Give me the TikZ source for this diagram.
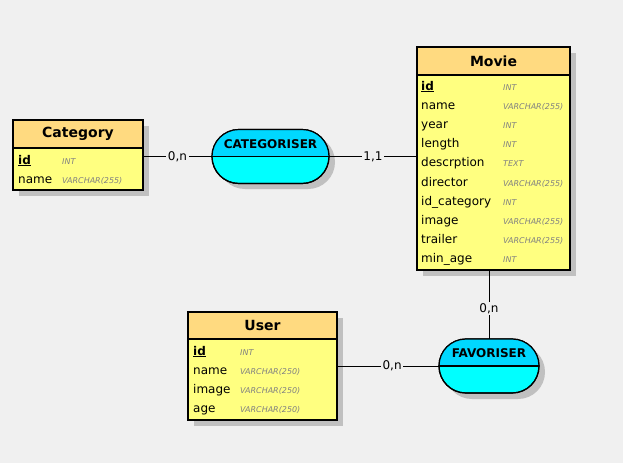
\documentclass[tikz,border=0pt]{standalone}
\usepackage{fontspec}
\setmainfont{DejaVu Sans}
\definecolor{bg}{HTML}{F0F0F0}
\definecolor{hdr}{HTML}{FFDA80}
\definecolor{bodyc}{HTML}{FFFF80}
\definecolor{cyantop}{HTML}{00D8FF}
\definecolor{cyanbot}{HTML}{00FFFF}
\definecolor{shadowc}{HTML}{C0C0C0}
\definecolor{typec}{HTML}{808080}
\begin{document}
\begin{tikzpicture}[x=1pt,y=-1pt,
  tablebox/.style={draw=black, line width=1.2pt, fill=bodyc, rectangle, inner sep=0pt, outer sep=0pt},
  hdrbox/.style={draw=black, line width=1.2pt, fill=hdr, rectangle, inner sep=0pt, outer sep=0pt, font=\bfseries\fontsize{14}{16}\selectfont},
  entity/.style={draw=black, line width=1.2pt, fill=cyanbot, rectangle, rounded corners=26.9pt, inner sep=0pt, outer sep=0pt},
  entlabel/.style={font=\bfseries\fontsize{12}{14}\selectfont, inner sep=0pt},
  attr/.style={anchor=base west, inner sep=0pt, font=\fontsize{12}{14}\selectfont},
  typ/.style={anchor=base west, inner sep=0pt, text=typec, font=\itshape\fontsize{8}{10}\selectfont},
  conn/.style={draw=black, line width=1pt},
  card/.style={fill=bg, inner sep=1.5pt, font=\fontsize{12}{14}\selectfont},
  shadowbox/.style={fill=shadowc}
]
\useasboundingbox[fill=bg] (0,0) rectangle (623,463);

% shadows
\fill[shadowbox] (423,53) rectangle (576,276);
\fill[shadowbox] (19,126) rectangle (149,196);
\fill[shadowbox] (194,318) rectangle (343,426);
\fill[shadowbox, rounded corners=26.9pt] (218,135) rectangle (335,189);
\fill[shadowbox, rounded corners=26.9pt] (445,345) rectangle (545,399);

% ---------- Movie ----------
\node[tablebox, minimum width=153pt, minimum height=223pt] (movie) at (493.5,158.5) {};
\node[hdrbox, minimum width=153pt, minimum height=28pt, anchor=north] (movieh) at (movie.north) {Movie};
\node[attr] (m1) at (421,90) {\underline{\textbf{id}}};
\node[typ] (mt1) at (503,90) {INT};
\node[attr] (m2) at (421,109.2) {name};
\node[typ] (mt2) at (503,109.2) {VARCHAR(255)};
\node[attr] (m3) at (421,128.4) {year};
\node[typ] (mt3) at (503,128.4) {INT};
\node[attr] (m4) at (421,147.6) {length};
\node[typ] (mt4) at (503,147.6) {INT};
\node[attr] (m5) at (421,166.8) {descrption};
\node[typ] (mt5) at (503,166.8) {TEXT};
\node[attr] (m6) at (421,186) {director};
\node[typ] (mt6) at (503,186) {VARCHAR(255)};
\node[attr] (m7) at (421,205.2) {id\_category};
\node[typ] (mt7) at (503,205.2) {INT};
\node[attr] (m8) at (421,224.4) {image};
\node[typ] (mt8) at (503,224.4) {VARCHAR(255)};
\node[attr] (m9) at (421,243.6) {trailer};
\node[typ] (mt9) at (503,243.6) {VARCHAR(255)};
\node[attr] (m10) at (421,262.8) {min\_age};
\node[typ] (mt10) at (503,262.8) {INT};

% ---------- Category ----------
\node[tablebox, minimum width=130pt, minimum height=70pt] (category) at (78,155) {};
\node[hdrbox, minimum width=130pt, minimum height=28pt, anchor=north] (categoryh) at (category.north) {Category};
\node[attr] (c1) at (18,164) {\underline{\textbf{id}}};
\node[typ] (ct1) at (62,164) {INT};
\node[attr] (c2) at (18,183.4) {name};
\node[typ] (ct2) at (62,183.4) {VARCHAR(255)};

% ---------- User ----------
\node[tablebox, minimum width=149pt, minimum height=108pt] (user) at (262.5,366) {};
\node[hdrbox, minimum width=149pt, minimum height=27pt, anchor=north] (userh) at (user.north) {User};
\node[attr] (u1) at (193,355) {\underline{\textbf{id}}};
\node[typ] (ut1) at (240,355) {INT};
\node[attr] (u2) at (193,374.2) {name};
\node[typ] (ut2) at (240,374.2) {VARCHAR(250)};
\node[attr] (u3) at (193,393.4) {image};
\node[typ] (ut3) at (240,393.4) {VARCHAR(250)};
\node[attr] (u4) at (193,412.6) {age};
\node[typ] (ut4) at (240,412.6) {VARCHAR(250)};

% ---------- CATEGORISER ----------
\node[entity, minimum width=117pt, minimum height=54pt] (categoriser) at (270.5,156.5) {};
\begin{scope}
  \clip[rounded corners=26.9pt] (categoriser.south west) rectangle (categoriser.north east);
  \fill[cyantop] (categoriser.north west) rectangle (categoriser.east);
\end{scope}
\draw[line width=1.2pt] (categoriser.west) -- (categoriser.east);
\draw[line width=1.2pt, rounded corners=26.9pt] (categoriser.south west) rectangle (categoriser.north east);
\node[entlabel] (categoriserlbl) at (270.5,144) {CATEGORISER};

% ---------- FAVORISER ----------
\node[entity, minimum width=100pt, minimum height=54pt] (favoriser) at (489,366) {};
\begin{scope}
  \clip[rounded corners=26.9pt] (favoriser.south west) rectangle (favoriser.north east);
  \fill[cyantop] (favoriser.north west) rectangle (favoriser.east);
\end{scope}
\draw[line width=1.2pt] (favoriser.west) -- (favoriser.east);
\draw[line width=1.2pt, rounded corners=26.9pt] (favoriser.south west) rectangle (favoriser.north east);
\node[entlabel] (favoriserlbl) at (489,353.5) {FAVORISER};

% ---------- connectors ----------
\draw[conn] (categoriser.west -| category.east) -- node[card] (l1) {0,n} (categoriser.west);
\draw[conn] (categoriser.east) -- node[card] (l2) {1,1} (categoriser.east -| movie.west);
\draw[conn] (favoriser.west -| user.east) -- node[card, pos=0.54] (l3) {0,n} (favoriser.west);
\draw[conn] (favoriser.north |- movie.south) -- node[card, pos=0.56] (l4) {0,n} (favoriser.north);
\end{tikzpicture}
\end{document}
